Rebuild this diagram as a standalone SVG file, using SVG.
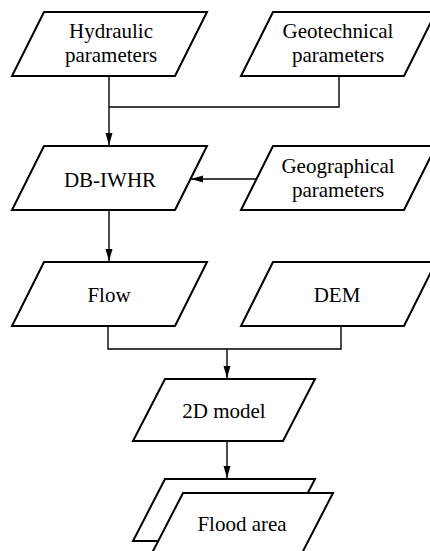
<svg xmlns="http://www.w3.org/2000/svg" width="430" height="551" viewBox="0 0 430 551">
  <style>
    .box { fill: #ffffff; stroke: #000000; stroke-width: 2; stroke-linejoin: miter; }
    .lbl { font-family: 'Liberation Serif', 'DejaVu Serif', serif; font-size: 21px; fill: #000000; text-anchor: middle; }
    .link { fill: none; stroke: #000000; stroke-width: 1.4; }
  </style>
  <defs>
    <marker id="arrow" markerUnits="userSpaceOnUse" markerWidth="13" markerHeight="8" refX="12" refY="3.5" orient="auto">
      <path d="M0,0 L12,3.5 L0,7 Z" fill="#000000"/>
    </marker>
  </defs>
  <rect width="430" height="551" fill="#ffffff"/>

  <!-- connectors -->
  <g id="connectors">
    <path class="link" d="M109,76 V145" marker-end="url(#arrow)"/>
    <path class="link" d="M339,76 V107 H109"/>
    <path class="link" d="M256.5,179 H191" marker-end="url(#arrow)"/>
    <path class="link" d="M109,210 V261" marker-end="url(#arrow)"/>
    <path class="link" d="M108,326 V349 H341 V326"/>
    <path class="link" d="M227,349 V378" marker-end="url(#arrow)"/>
    <path class="link" d="M227,441 V478" marker-end="url(#arrow)"/>
  </g>

  <g id="hydraulic">
    <polygon class="box" points="44,12 207,12 175,76 12,76"/>
    <text class="lbl" x="111" y="38" font-family="Liberation Serif">Hydraulic</text>
    <text class="lbl" x="111" y="62">parameters</text>
  </g>

  <g id="geotechnical">
    <polygon class="box" points="273,12 436,12 404,76 241,76"/>
    <text class="lbl" x="338" y="38">Geotechnical</text>
    <text class="lbl" x="338" y="62">parameters</text>
  </g>

  <g id="db-iwhr">
    <polygon class="box" points="44,146 207,146 175,210 12,210"/>
    <text class="lbl" x="110" y="187">DB-IWHR</text>
  </g>

  <g id="geographical">
    <polygon class="box" points="273,146 436,146 404,210 241,210"/>
    <text class="lbl" x="338" y="173">Geographical</text>
    <text class="lbl" x="338" y="197">parameters</text>
  </g>

  <g id="flow">
    <polygon class="box" points="44,262 207,262 175,326 12,326"/>
    <text class="lbl" x="109" y="302">Flow</text>
  </g>

  <g id="dem">
    <polygon class="box" points="273,262 436,262 404,326 241,326"/>
    <text class="lbl" x="337" y="302">DEM</text>
  </g>

  <g id="model-2d">
    <polygon class="box" points="165,379 315,379 283,441 133,441"/>
    <text class="lbl" x="224" y="418">2D model</text>
  </g>

  <g id="flood-area">
    <polygon class="box" points="165,479 315,479 283,541 133,541"/>
    <polygon class="box" points="183,493 333,493 301,555 151,555"/>
    <text class="lbl" x="242" y="531">Flood area</text>
  </g>
</svg>
